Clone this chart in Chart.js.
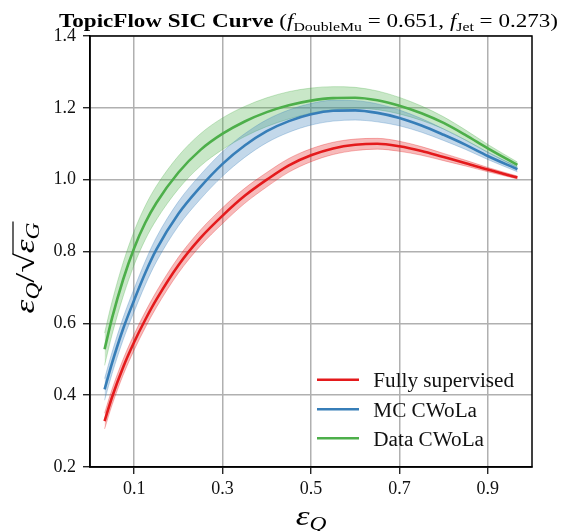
<!DOCTYPE html>
<html><head><meta charset="utf-8">
<script src="https://cdn.jsdelivr.net/npm/chart.js@4.4.1/dist/chart.umd.min.js"></script>
<style>html,body{margin:0;padding:0;background:#fff}#wrap{width:562px;height:531px;position:relative}</style>
</head><body><div id="wrap"><canvas id="c" width="562" height="531"></canvas></div>
<script>
// ---- data ----
const epsQ = [0.033,0.05,0.075,0.1,0.125,0.15,0.2,0.25,0.3,0.35,0.4,0.45,0.5,0.55,0.6,0.65,0.7,0.75,0.8,0.85,0.9,0.967];
const fullySupervised = [0.328,0.395,0.478,0.548,0.61,0.666,0.762,0.838,0.9,0.955,1.0,1.04,1.068,1.087,1.097,1.1,1.093,1.08,1.063,1.046,1.028,1.006];
const fullySupervisedErr = [0.022,0.022,0.022,0.022,0.022,0.022,0.022,0.022,0.022,0.021,0.02,0.019,0.018,0.017,0.016,0.015,0.014,0.012,0.01,0.008,0.006,0.004];
const mcCWoLa = [0.416,0.49,0.585,0.665,0.74,0.805,0.905,0.98,1.044,1.095,1.135,1.163,1.182,1.192,1.193,1.186,1.172,1.151,1.125,1.097,1.066,1.029];
const mcCWoLaErr = [0.03,0.03,0.031,0.032,0.033,0.034,0.034,0.034,0.034,0.033,0.032,0.031,0.03,0.029,0.027,0.025,0.022,0.019,0.016,0.013,0.01,0.007];
const dataCWoLa = [0.528,0.615,0.722,0.81,0.88,0.935,1.02,1.083,1.128,1.162,1.188,1.207,1.22,1.227,1.228,1.221,1.206,1.185,1.158,1.124,1.087,1.041];
const dataCWoLaErr = [0.045,0.046,0.047,0.047,0.047,0.047,0.046,0.045,0.044,0.042,0.04,0.038,0.035,0.032,0.029,0.026,0.023,0.02,0.017,0.014,0.011,0.008];
const seriesNames = ['Fully supervised','MC CWoLa','Data CWoLa'];
const xTicks = [0.1,0.3,0.5,0.7,0.9];
const xTickLabels = ['0.1','0.3','0.5','0.7','0.9'];
const yTicks = [0.2,0.4,0.6,0.8,1.0,1.2,1.4];
const yTickLabels = ['0.2','0.4','0.6','0.8','1.0','1.2','1.4'];

// ---- styling ----
const colors = ['#e41a1c','#377eb8','#4daf4a'];
const bandFill = ['rgba(228,26,28,0.30)','rgba(55,126,184,0.30)','rgba(77,175,74,0.30)'];
const bandEdge = ['rgba(228,26,28,0.30)','rgba(55,126,184,0.30)','rgba(77,175,74,0.30)'];
const SERIF = '"Liberation Serif", "Times New Roman", serif';

const seriesVals = [fullySupervised, mcCWoLa, dataCWoLa];
const seriesErr = [fullySupervisedErr, mcCWoLaErr, dataCWoLaErr];

const datasets = [];
seriesVals.forEach((vals, i) => {
  datasets.push({
    label: seriesNames[i], isMain: true,
    data: epsQ.map((x, k) => ({x, y: vals[k]})),
    borderColor: colors[i], borderWidth: 2.6, pointRadius: 0, fill: false,
    cubicInterpolationMode: 'monotone', order: 0
  });
});
seriesVals.forEach((vals, i) => {
  const err = seriesErr[i];
  const upIdx = datasets.length;
  datasets.push({
    label: seriesNames[i] + ' upper', isMain: false,
    data: epsQ.map((x, k) => ({x, y: vals[k] + err[k]})),
    borderColor: bandEdge[i], borderWidth: 1, pointRadius: 0,
    backgroundColor: bandFill[i], fill: upIdx + 1,
    cubicInterpolationMode: 'monotone', order: 1
  });
  datasets.push({
    label: seriesNames[i] + ' lower', isMain: false,
    data: epsQ.map((x, k) => ({x, y: vals[k] - err[k]})),
    borderColor: bandEdge[i], borderWidth: 1, pointRadius: 0, fill: false,
    cubicInterpolationMode: 'monotone', order: 1
  });
});

function measure(ctx, segs) {
  let total = 0;
  segs.forEach(s => { ctx.font = s.f; s.w = ctx.measureText(s.t).width; total += s.w; });
  return total;
}
function drawRich(ctx, segs, x, y, sc) {
  measure(ctx, segs);
  ctx.save();
  ctx.translate(x, y);
  ctx.scale(sc, 1);
  let cx = 0;
  segs.forEach(s => {
    ctx.font = s.f;
    s.x0 = cx * sc;
    ctx.fillText(s.t, cx, s.dy || 0);
    cx += s.w;
  });
  ctx.restore();
}

const decor = {
  id: 'decor',
  afterDraw(chart) {
    const ctx = chart.ctx;
    const a = chart.chartArea;
    ctx.save();
    ctx.strokeStyle = '#000';
    ctx.lineWidth = 1.5;
    ctx.strokeRect(a.left, a.top, a.right - a.left, a.bottom - a.top);
    ctx.fillStyle = '#000';
    ctx.textBaseline = 'alphabetic';
    ctx.textAlign = 'left';
    // title
    const ts = [
      {t: 'TopicFlow SIC Curve', f: 'bold 19px ' + SERIF},
      {t: ' (', f: '19px ' + SERIF},
      {t: 'f', f: 'italic 19px ' + SERIF},
      {t: 'DoubleMu', f: '13px ' + SERIF, dy: 4},
      {t: ' = 0.651, ', f: '19px ' + SERIF},
      {t: 'f', f: 'italic 19px ' + SERIF},
      {t: 'Jet', f: '13px ' + SERIF, dy: 4},
      {t: ' = 0.273)', f: '19px ' + SERIF}
    ];
    drawRich(ctx, ts, 59, 27, 499 / measure(ctx, ts));
    // x label
    const xs = [
      {t: 'ε', f: 'italic 27px ' + SERIF},
      {t: 'Q', f: 'italic 18px ' + SERIF, dy: 5}
    ];
    const xsc = 1.3;
    const w = measure(ctx, xs) * xsc;
    drawRich(ctx, xs, (a.left + a.right) / 2 - w / 2, 525, xsc);
    // y label (rotated)
    const ys = [
      {t: 'ε', f: 'italic 27px ' + SERIF},
      {t: 'Q', f: 'italic 18px ' + SERIF, dy: 5},
      {t: '/', f: '28px ' + SERIF},
      {t: '√', f: '27px ' + SERIF},
      {t: 'ε', f: 'italic 27px ' + SERIF},
      {t: 'G', f: 'italic 18px ' + SERIF, dy: 5}
    ];
    const ysc = 1.3;
    const wy = measure(ctx, ys) * ysc;
    ctx.save();
    ctx.translate(34, 268 + wy / 2);
    ctx.rotate(-Math.PI / 2);
    drawRich(ctx, ys, 0, 0, ysc);
    ctx.beginPath();
    ctx.lineWidth = 1.2;
    ctx.moveTo(ys[4].x0 - 1, -21);
    ctx.lineTo(wy + 1, -21);
    ctx.stroke();
    ctx.restore();
    // legend
    const mains = chart.data.datasets.filter(d => d.isMain);
    const rowY = [379.7, 409.3, 438.3];
    mains.forEach((d, i) => {
      ctx.beginPath();
      ctx.strokeStyle = d.borderColor;
      ctx.lineWidth = 2.6;
      ctx.moveTo(317, rowY[i]);
      ctx.lineTo(359, rowY[i]);
      ctx.stroke();
      ctx.fillStyle = '#111';
      ctx.font = '20px ' + SERIF;
      ctx.save();
      ctx.translate(373.3, rowY[i] + 7.3);
      ctx.scale(1.06, 1);
      ctx.fillText(d.label, 0, 0);
      ctx.restore();
    });
    ctx.restore();
  }
};

new Chart(document.getElementById('c'), {
  type: 'line',
  data: {datasets},
  options: {
    responsive: false, animation: false, devicePixelRatio: 1,
    layout: {padding: {top: 36, right: 30, left: 0, bottom: 0}},
    plugins: {legend: {display: false}, title: {display: false}, tooltip: {enabled: false}},
    scales: {
      x: {
        type: 'linear', min: 0, max: 1,
        afterBuildTicks: s => { s.ticks = xTicks.map(v => ({value: v})); },
        afterFit: s => { s.height = 64; },
        ticks: {callback: (v, i) => xTickLabels[i], color: '#111', font: {family: SERIF, size: 18}, padding: 4, maxRotation: 0, autoSkip: false},
        grid: {color: '#b0b0b0', lineWidth: 1.5, tickLength: 7, tickColor: '#000', tickWidth: 1.2},
        border: {color: '#000', width: 1.5}
      },
      y: {
        type: 'linear', min: 0.2, max: 1.4,
        afterBuildTicks: s => { s.ticks = yTicks.map(v => ({value: v})); },
        afterFit: s => { s.width = 90; },
        ticks: {callback: (v, i) => yTickLabels[i], color: '#111', font: {family: SERIF, size: 18}, padding: 7, autoSkip: false},
        grid: {color: '#b0b0b0', lineWidth: 1.5, tickLength: 7, tickColor: '#000', tickWidth: 1.2},
        border: {color: '#000', width: 1.5}
      }
    }
  },
  plugins: [decor]
});
</script></body></html>
